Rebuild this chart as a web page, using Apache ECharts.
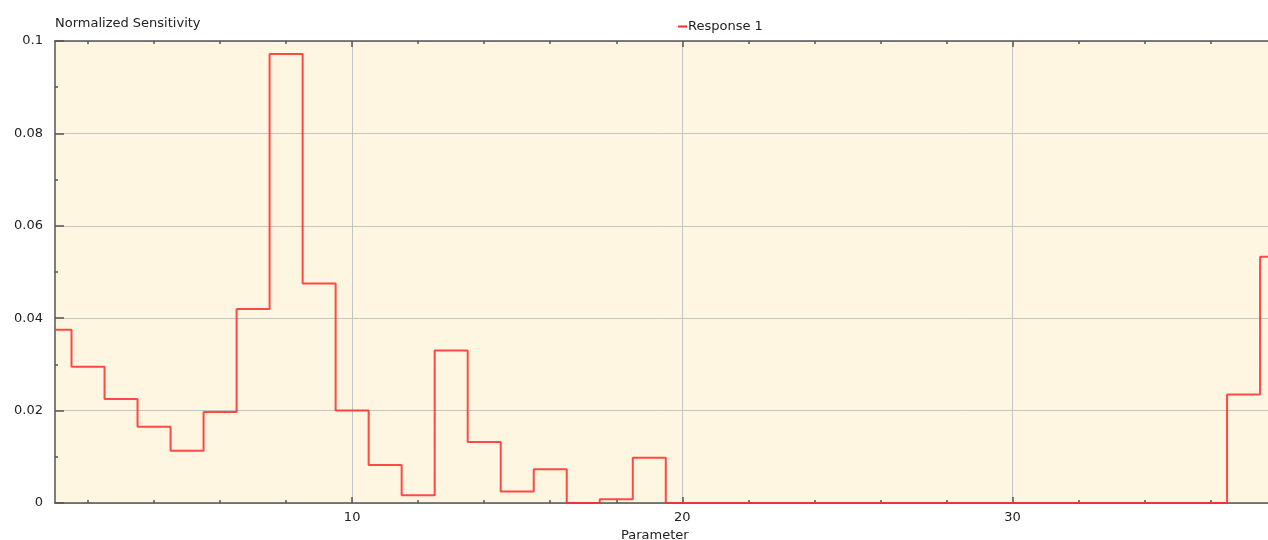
<!DOCTYPE html>
<html>
<head>
<meta charset="utf-8">
<script src="https://cdn.jsdelivr.net/npm/echarts@6/dist/echarts.min.js"></script>
<style>
  html, body { margin: 0; padding: 0; background: #ffffff; }
  #chart { width: 1268px; height: 540px; }
</style>
</head>
<body>
<div id="chart"></div>
<script>
// Parameter index and the normalized sensitivity of Response 1 for each one
const parameters = [1, 2, 3, 4, 5, 6, 7, 8, 9, 10, 11, 12, 13, 14, 15, 16, 17, 18, 19,
  20, 21, 22, 23, 24, 25, 26, 27, 28, 29, 30, 31, 32, 33, 34, 35, 36, 37, 38];
const response1 = [0.0375, 0.0295, 0.0225, 0.0165, 0.0113, 0.0197, 0.0420, 0.0972, 0.0475,
  0.0200, 0.0082, 0.0017, 0.0330, 0.0132, 0.0025, 0.0073, 0.0000, 0.0008, 0.0098,
  0, 0, 0, 0, 0, 0, 0, 0, 0, 0, 0, 0, 0, 0, 0, 0, 0, 0.0235, 0.0533];
const yTicks = ['0', '0.02', '0.04', '0.06', '0.08', '0.1'];
const xTicks = [10, 20, 30];
const xMinorTicks = [2, 4, 6, 8, 12, 14, 16, 18, 22, 24, 26, 28, 32, 34, 36];

const FONT = 'DejaVu Sans';
const FONT_SIZE = 13;
const axisColor = '#555555';
const textColor = '#222222';

const chart = echarts.init(document.getElementById('chart'), null, { renderer: 'canvas' });

// shared x-axis scale; the visible variants differ only in ticks and position
function xAxisDef(position, ticks, tickLen, withLine, withLabels) {
  return {
    type: 'value',
    position: position,
    min: 1,
    max: 37.74,
    interval: 10,
    axisLine: { show: withLine, onZero: false, lineStyle: { color: axisColor, width: 1.5 } },
    axisTick: { show: true, inside: true, length: tickLen, customValues: ticks,
      lineStyle: { color: axisColor, width: 1.5 } },
    minorTick: { show: false },
    splitLine: withLabels
      ? { show: true, lineStyle: { color: '#c4c4c4', width: 1 } }
      : { show: false },
    axisLabel: withLabels
      ? { show: true, color: textColor, fontFamily: FONT, fontSize: FONT_SIZE, margin: 8,
          customValues: ticks, formatter: v => String(v) }
      : { show: false }
  };
}

chart.setOption({
  animation: false,
  textStyle: { fontFamily: FONT },
  title: [
    { text: 'Normalized Sensitivity', left: 50, top: 12,
      textStyle: { fontFamily: FONT, fontSize: FONT_SIZE, fontWeight: 'normal', color: textColor } },
    { text: 'Parameter', left: 616, top: 524,
      textStyle: { fontFamily: FONT, fontSize: FONT_SIZE, fontWeight: 'normal', color: textColor } }
  ],
  legend: {
    top: 15,
    left: 673,
    itemWidth: 9,
    itemHeight: 2,
    itemGap: 0,
    icon: 'rect',
    textStyle: { fontFamily: FONT, fontSize: FONT_SIZE, color: textColor, padding: [0, 0, 0, -4] },
    data: ['Response 1']
  },
  grid: {
    left: 55, right: 0, top: 41, bottom: 37,
    show: true, backgroundColor: '#fef6e0', borderWidth: 0
  },
  xAxis: [
    xAxisDef('bottom', xTicks, 6, true, true),
    xAxisDef('bottom', xMinorTicks, 3, false, false),
    xAxisDef('top', xTicks, 6, true, false),
    xAxisDef('top', xMinorTicks, 3, false, false)
  ],
  yAxis: {
    type: 'value',
    min: 0,
    max: 0.1,
    interval: 0.02,
    axisLine: { show: true, lineStyle: { color: axisColor, width: 1.5 } },
    axisTick: { show: true, inside: true, length: 9, lineStyle: { color: axisColor, width: 1.5 } },
    minorTick: { show: true, splitNumber: 2, length: 3, lineStyle: { color: axisColor, width: 1.5 } },
    splitLine: { show: true, lineStyle: { color: '#c4c4c4', width: 1 } },
    axisLabel: {
      color: textColor, fontFamily: FONT, fontSize: FONT_SIZE, margin: 12,
      formatter: v => yTicks[Math.round(v / 0.02)]
    }
  },
  series: [{
    name: 'Response 1',
    type: 'line',
    step: 'middle',
    xAxisIndex: 0,
    symbol: 'none',
    clip: true,
    color: '#ff2a2a',
    lineStyle: { color: '#ff2a2a', width: 2, opacity: 0.85 },
    data: parameters.map((p, i) => [p, response1[i]])
  }]
});
</script>
</body>
</html>
